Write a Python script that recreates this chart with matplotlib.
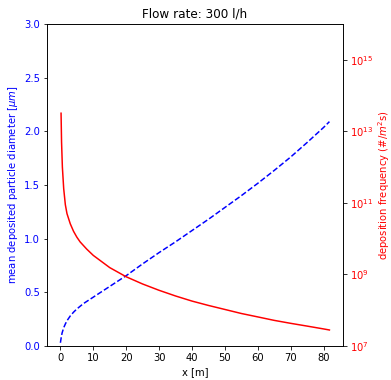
import numpy as np
import matplotlib
matplotlib.use("Agg")
import matplotlib.pyplot as plt

# posición a lo largo del tubo [m]
x_d = [0, 0.25, 0.5, 1, 1.5, 2, 3, 4, 5, 7, 10, 13, 16, 20, 25, 30, 35, 40,
       45, 50, 55, 60, 65, 70, 75, 80, 81.8]
# diámetro medio depositado [um]
d_mean = [0.03, 0.08, 0.12, 0.17, 0.205, 0.235, 0.28, 0.315, 0.345, 0.395,
          0.455, 0.515, 0.575, 0.655, 0.765, 0.87, 0.97, 1.075, 1.18, 1.29,
          1.40, 1.515, 1.635, 1.76, 1.895, 2.035, 2.09]

x_f = [0.2, 0.35, 0.6, 1, 1.5, 2, 3, 4, 5, 6, 8, 10, 15, 20, 25, 30, 35, 40,
       45, 50, 55, 60, 65, 70, 75, 80, 81.8]
# frecuencia de deposición [#/m^2 s]
freq = [3.2e13, 5e12, 1e12, 2.5e11, 8.9e10, 5e10, 2.6e10, 1.6e10, 1.1e10,
        8.1e9, 5.1e9, 3.4e9, 1.55e9, 8.6e8, 5.4e8, 3.6e8, 2.5e8, 1.8e8,
        1.36e8, 1.05e8, 8.1e7, 6.5e7, 5.2e7, 4.3e7, 3.6e7, 3.0e7, 2.8e7]

fig, ax = plt.subplots(figsize=(391 / 72, 380 / 72), dpi=72)
fig.subplots_adjust(left=0.120, right=0.877, bottom=0.0895, top=0.937)

ax.plot(x_d, d_mean, "b--", lw=1.5)
ax.set_ylim(0, 3.0)
ax.set_xlabel("x [m]")
ax.set_ylabel(r"mean deposited particle diameter [$\mu m$]", color="b")
ax.tick_params(axis="y", labelcolor="b")
ax.set_title("Flow rate: 300 l/h")

ax2 = ax.twinx()
ax2.plot(x_f, freq, "r-", lw=1.5)
ax2.set_yscale("log")
ax2.set_ylim(1e7, 1e16)
ax2.set_yticks([1e7, 1e9, 1e11, 1e13, 1e15])
ax2.yaxis.set_minor_locator(matplotlib.ticker.NullLocator())
ax2.set_ylabel(r"deposition frequency (#/$m^2$s)", color="r", labelpad=3)
ax2.tick_params(axis="y", labelcolor="r")

ax.set_xlim(-4.1, 85.9)

plt.savefig("out.png", dpi=72)
